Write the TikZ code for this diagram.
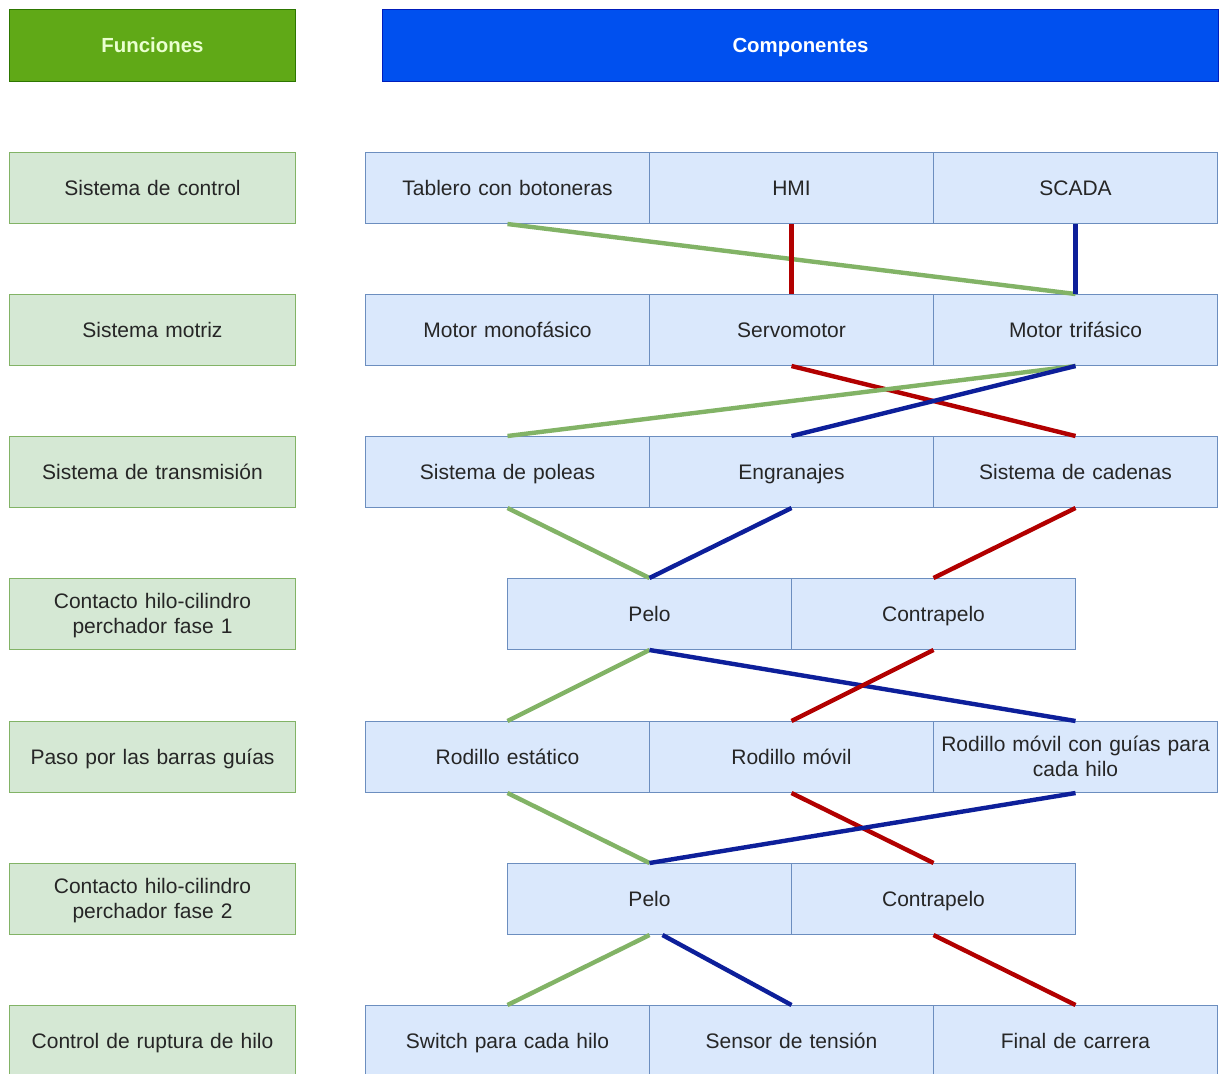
\documentclass[tikz,border=0pt]{standalone}
\usepackage{fontspec}
\setmainfont{Liberation Sans}
\definecolor{hgreen}{HTML}{60A917}
\definecolor{hgreenS}{HTML}{2D7600}
\definecolor{hblue}{HTML}{0050EF}
\definecolor{hblueS}{HTML}{001DBC}
\definecolor{fgreen}{HTML}{D5E8D4}
\definecolor{sgreen}{HTML}{82B366}
\definecolor{cblue}{HTML}{DAE8FC}
\definecolor{sblue}{HTML}{6C8EBF}
\definecolor{txt}{HTML}{262626}
\definecolor{lgreen}{HTML}{82B366}
\definecolor{lred}{HTML}{B20000}
\definecolor{lblue}{HTML}{0D1F9A}
\definecolor{htxtg}{HTML}{EAFFD0}
\newcommand\mystrut{\rule[-2.75pt]{0pt}{12.5pt}}
\begin{document}
\begin{tikzpicture}[x=0.5pt,y=-0.5pt,
  base/.style={draw, line width=0.5pt, anchor=north west, inner sep=0pt, align=center,
    font=\fontsize{10.5}{12.5}\selectfont, text=txt,
    execute at begin node=\mystrut, execute at end node=\mystrut},
  head/.style={base, font=\fontsize{10.2}{12}\selectfont\bfseries, minimum height=36pt},
  func/.style={base, fill=fgreen, draw=sgreen, minimum width=143pt, minimum height=35.5pt, text width=140pt},
  comp/.style={base, fill=cblue, draw=sblue, minimum width=142pt, minimum height=35.5pt, text width=140pt},
  con/.style={line width=2.2pt},
  gl/.style={con, draw=lgreen},
  rl/.style={con, draw=lred},
  bl/.style={con, draw=lblue}]
\useasboundingbox (0,0) rectangle (1219,1073);
\begin{scope}
\clip (0,0) rectangle (1219,1073);
\fill[white] (0,0) rectangle (1219,1073);
% headers
\node[head, fill=hgreen, draw=hgreenS, minimum width=143pt, text=htxtg] (hf) at (9,9) {Funciones};
\node[head, fill=hblue, draw=hblueS, minimum width=418pt, text=white] (hc) at (382,9) {Componentes};
% functions
\node[func] (f1) at (9,152) {Sistema de control};
\node[func] (f2) at (9,294) {Sistema motriz};
\node[func] (f3) at (9,436) {Sistema de transmisión};
\node[func] (f4) at (9,578) {Contacto hilo-cilindro\\perchador fase 1};
\node[func] (f5) at (9,721) {Paso por las barras guías};
\node[func] (f6) at (9,863) {Contacto hilo-cilindro\\perchador fase 2};
\node[func] (f7) at (9,1005) {Control de ruptura de hilo};
% components
\node[comp] (tab) at (365,152) {Tablero con botoneras};
\node[comp] (hmi) at (649,152) {HMI};
\node[comp] (sca) at (933,152) {SCADA};
\node[comp] (mono) at (365,294) {Motor monofásico};
\node[comp] (servo) at (649,294) {Servomotor};
\node[comp] (tri) at (933,294) {Motor trifásico};
\node[comp] (pol) at (365,436) {Sistema de poleas};
\node[comp] (eng) at (649,436) {Engranajes};
\node[comp] (cad) at (933,436) {Sistema de cadenas};
\node[comp] (peloA) at (507,578) {Pelo};
\node[comp] (contA) at (791,578) {Contrapelo};
\node[comp] (est) at (365,721) {Rodillo estático};
\node[comp] (mov) at (649,721) {Rodillo móvil};
\node[comp] (gui) at (933,721) {Rodillo móvil con guías para\\cada hilo};
\node[comp] (peloB) at (507,863) {Pelo};
\node[comp] (contB) at (791,863) {Contrapelo};
\node[comp] (sw) at (365,1005) {Switch para cada hilo};
\node[comp] (sen) at (649,1005) {Sensor de tensión};
\node[comp] (fin) at (933,1005) {Final de carrera};
% connectors
\draw[gl] (tab.south) -- (tri.north);
\draw[rl] (hmi.south) -- (servo.north);
\draw[bl] (sca.south) -- (tri.north);
\draw[rl] (servo.south) -- (cad.north);
\draw[gl] (tri.south) -- (pol.north);
\draw[bl] (tri.south) -- (eng.north);
\draw[gl] (pol.south) -- (peloA.north);
\draw[bl] (eng.south) -- (peloA.north);
\draw[rl] (cad.south) -- (contA.north);
\draw[gl] (peloA.south) -- (est.north);
\draw[bl] (peloA.south) -- (gui.north);
\draw[rl] (contA.south) -- (mov.north);
\draw[gl] (est.south) -- (peloB.north);
\draw[rl] (mov.south) -- (contB.north);
\draw[bl] (gui.south) -- (peloB.north);
\draw[gl] (peloB.south) -- (sw.north);
\coordinate (pbs) at ([xshift=6.5pt]peloB.south);
\draw[bl] (pbs) -- (sen.north);
\draw[rl] (contB.south) -- (fin.north);
\end{scope}
\end{tikzpicture}
\end{document}
